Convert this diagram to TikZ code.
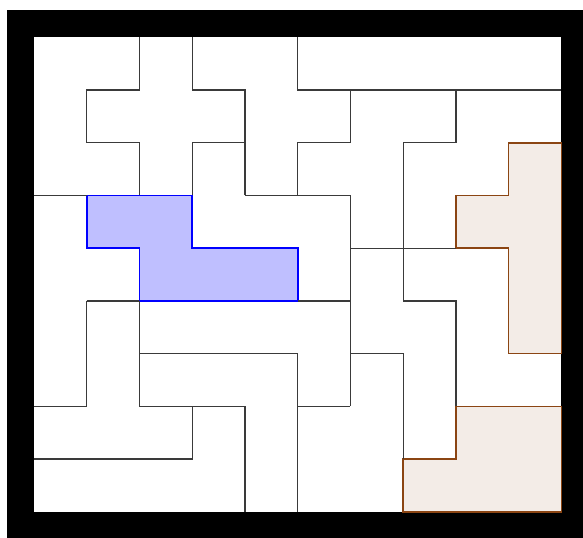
\documentclass[tikz,border=0pt]{standalone}
\usepackage{xcolor}
\usepackage{tikz}
\definecolor{saddle}{RGB}{139,69,19}
\definecolor{wallgray}{HTML}{3A3A3A}

\begin{document}
\begin{tikzpicture}[
  x=1cm, y=1cm,
  frame/.style={fill=black},
  board/.style={fill=white},
  seam/.style={draw=wallgray, line width=0.7pt, line join=miter},
  bluepiece/.style={draw=blue, fill=blue!25, line width=0.9pt},
  brownpiece/.style={draw=saddle, fill=saddle!10, line width=0.9pt}
]
  \useasboundingbox (-0.645,-0.49) rectangle (10.41,9.706);

  % frame and board
  \fill[frame] (-0.51,-0.8) rectangle (10.8,9.51);
  \fill[board] (0,0) rectangle (10,9);

  % highlighted pieces
  \filldraw[bluepiece] (1,6) -- (3,6) -- (3,5) -- (5,5) -- (5,4) -- (2,4) -- (2,5) -- (1,5) -- cycle;
  \filldraw[brownpiece] (9,7) -- (10,7) -- (10,3) -- (9,3) -- (9,5) -- (8,5) -- (8,6) -- (9,6) -- cycle;
  \filldraw[brownpiece] (7,0) -- (10,0) -- (10,2) -- (8,2) -- (8,1) -- (7,1) -- cycle;

  % seams between the other pieces
  \draw[seam] (2,9) -- (2,8) -- (1,8) -- (1,7) -- (2,7) -- (2,6);
  \draw[seam] (3,9) -- (3,8) -- (4,8) -- (4,6);
  \draw[seam] (3,7) -- (4,7);
  \draw[seam] (3,7) -- (3,6);
  \draw[seam] (0,6) -- (1,6);
  \draw[seam] (4,6) -- (6,6);
  \draw[seam] (5,9) -- (5,8) -- (10,8);
  \draw[seam] (6,8) -- (6,7) -- (5,7) -- (5,6);
  \draw[seam] (8,8) -- (8,7) -- (7,7) -- (7,4) -- (8,4) -- (8,2);
  \draw[seam] (6,6) -- (6,2);
  \draw[seam] (6,5) -- (8,5);
  \draw[seam] (5,4) -- (6,4);
  \draw[seam] (6,3) -- (7,3) -- (7,1);
  \draw[seam] (2,3) -- (5,3) -- (5,0);
  \draw[seam] (5,2) -- (6,2);
  \draw[seam] (1,4) -- (2,4);
  \draw[seam] (1,4) -- (1,2) -- (0,2);
  \draw[seam] (2,4) -- (2,2) -- (4,2) -- (4,0);
  \draw[seam] (3,2) -- (3,1) -- (0,1);
\end{tikzpicture}
\end{document}
